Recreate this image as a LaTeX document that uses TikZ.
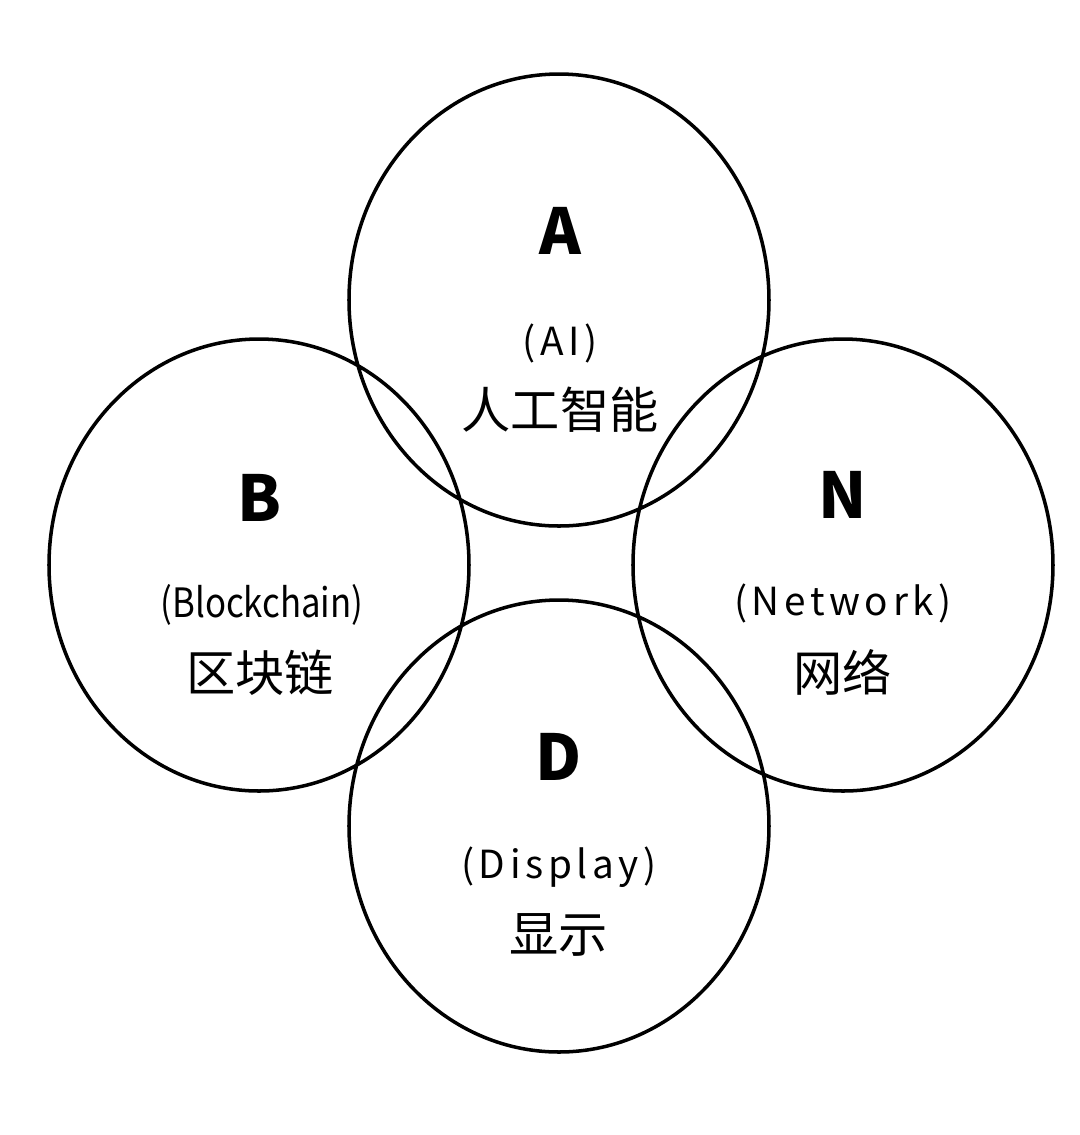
\documentclass[tikz,border=0pt]{standalone}
\usepackage{fontspec}
\setmainfont{Noto Sans CJK SC}
\newfontfamily\widefont[LetterSpace=12]{Noto Sans CJK SC}
\begin{document}
\begin{tikzpicture}[x=0.01cm,y=-0.01cm,
    ring/.style={line width=1pt},
    letter/.style={font=\fontsize{18}{20}\selectfont\bfseries},
    eng/.style={font=\widefont\fontsize{11}{13}\selectfont},
    zh/.style={font=\fontsize{14}{16}\selectfont}]
  \useasboundingbox (0,0) rectangle (1080,1135);

  \coordinate (cA) at (559,300);
  \coordinate (cB) at (259,565);
  \coordinate (cN) at (843,565);
  \coordinate (cD) at (559,826);

  \draw[ring] (cA) ellipse [x radius=210, y radius=226]
              (cB) ellipse [x radius=210, y radius=226]
              (cN) ellipse [x radius=210, y radius=226]
              (cD) ellipse [x radius=210, y radius=226];

  % A
  \node[letter] (ltA) at (560,231) {A};
  \node[eng] (enA) at (560,343) {(AI)};
  \node[zh] (zhA) at (560,410) {人工智能};
  % B
  \node[letter] (ltB) at (259,498) {B};
  \node[font=\fontsize{11.5}{13}\selectfont,xscale=.86,transform shape] (enB) at (262,605) {(Blockchain)};
  \node[zh] (zhB) at (260,673) {区块链};
  % N
  \node[letter] (ltN) at (843,495) {N};
  \node[eng] (enN) at (843,603) {(Network)};
  \node[zh] (zhN) at (843,672) {网络};
  % D
  \node[letter] (ltD) at (559,757) {D};
  \node[eng] (enD) at (559,867) {(Display)};
  \node[zh] (zhD) at (559,935) {显示};
\end{tikzpicture}
\end{document}
